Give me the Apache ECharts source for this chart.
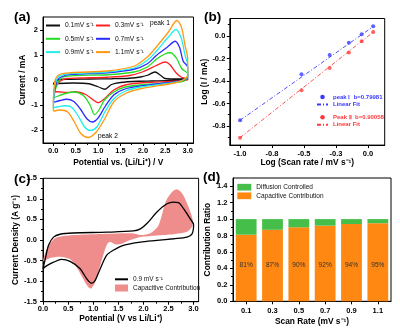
<!DOCTYPE html>
<html><head><meta charset="utf-8">
<script src="https://cdn.jsdelivr.net/npm/echarts@6/dist/echarts.min.js"></script>
<style>html,body{margin:0;padding:0;background:#fff}#c{width:400px;height:333px}</style>
</head><body><div id="c"></div>
<script>
// ================= DATA =================
// (a) CV loops [potential V, current mA]: anodic 0->3 V then cathodic 3->0 V
const cvNames = ['0.1mV s⁻¹','0.3mV s⁻¹','0.5mV s⁻¹','0.7mV s⁻¹','0.9mV s⁻¹','1.1mV s⁻¹'];
const cv01 = [[0,-0.18],[0.03,-0.08],[0.1,0.0],[0.3,0.03],[0.8,0.04],[1.3,0.05],[1.7,0.07],[1.95,0.12],[2.1,0.19],[2.27,0.32],[2.4,0.18],[2.5,0.06],[2.7,0.04],[3.0,0.05],
  [3.0,0.02],[2.7,-0.02],[2.2,-0.04],[1.9,-0.05],[1.5,-0.1],[1.3,-0.18],[1.15,-0.37],[1.0,-0.27],[0.8,-0.15],[0.45,-0.12],[0.1,-0.14],[0,-0.18]];
const cv03 = [[0,-0.48],[0.06,-0.25],[0.15,-0.05],[0.3,0.06],[0.6,0.08],[1.2,0.11],[1.7,0.18],[2.0,0.33],[2.3,0.58],[2.5,0.72],[2.6,0.62],[2.75,0.27],[2.87,0.1],[3.0,0.06],
  [3.0,0.0],[2.7,-0.05],[2.0,-0.11],[1.6,-0.2],[1.35,-0.4],[1.15,-0.74],[1.0,-0.91],[0.88,-0.78],[0.72,-0.58],[0.5,-0.47],[0.3,-0.5],[0.1,-0.47],[0,-0.48]];
const cv05 = [[0,-0.72],[0.06,-0.3],[0.12,-0.05],[0.22,0.12],[0.5,0.18],[1.2,0.21],[1.8,0.32],[2.1,0.52],[2.3,0.83],[2.5,1.05],[2.62,1.09],[2.75,0.87],[2.87,0.45],[3.0,0.25],
  [3.0,0.1],[2.9,-0.06],[2.7,-0.1],[2.0,-0.19],[1.6,-0.28],[1.35,-0.48],[1.15,-0.78],[1.02,-1.2],[0.92,-1.38],[0.82,-1.0],[0.67,-0.62],[0.45,-0.48],[0.25,-0.55],[0.05,-0.68],[0,-0.72]];
const cv07 = [[0,-0.9],[0.04,-0.35],[0.1,0.02],[0.28,0.19],[0.5,0.23],[1.2,0.29],[1.8,0.43],[2.1,0.65],[2.3,0.98],[2.55,1.32],[2.72,1.55],[2.82,1.3],[2.9,0.75],[3.0,0.52],
  [3.0,0.1],[2.9,0.0],[2.7,-0.08],[1.95,-0.24],[1.6,-0.36],[1.35,-0.6],[1.15,-1.08],[1.0,-1.52],[0.87,-1.68],[0.75,-1.55],[0.6,-1.15],[0.45,-0.85],[0.3,-0.77],[0.15,-0.82],[0,-0.9]];
const cv09 = [[0,-1.1],[0.04,-0.2],[0.12,0.14],[0.3,0.24],[0.6,0.27],[1.2,0.32],[1.8,0.48],[2.1,0.79],[2.3,1.15],[2.57,1.72],[2.74,2.02],[2.86,1.65],[2.94,1.0],[3.0,0.6],
  [3.0,0.15],[2.9,0.0],[2.7,-0.1],[1.95,-0.28],[1.6,-0.45],[1.35,-0.75],[1.15,-1.28],[0.97,-1.88],[0.83,-2.02],[0.7,-1.88],[0.55,-1.42],[0.4,-1.08],[0.25,-1.03],[0.1,-1.08],[0,-1.1]];
const cv11 = [[0,-1.22],[0.03,-0.1],[0.12,0.2],[0.4,0.29],[1.2,0.36],[1.8,0.55],[2.1,0.92],[2.3,1.32],[2.57,1.92],[2.76,2.38],[2.86,2.12],[2.94,1.39],[3.0,0.85],
  [3.0,0.2],[2.9,0.0],[2.7,-0.12],[1.95,-0.35],[1.6,-0.55],[1.35,-0.88],[1.15,-1.55],[0.96,-2.08],[0.78,-2.3],[0.62,-2.15],[0.47,-1.68],[0.32,-1.28],[0.15,-1.2],[0,-1.25]];
const cvColors = ['#111111','#ff2020','#22dd22','#2a2aff','#22eeee','#ff9a10'];
const aXTicks = [0,0.5,1,1.5,2,2.5,3];
const aXLabels = ['0.0','0.5','1.0','1.5','2.0','2.5','3.0'];
const aXMinor = [0.25,0.75,1.25,1.75,2.25,2.75];
const aYTicks = [-2,-1,0,1,2];
const aYLabels = ['-2','-1','0','1','2'];
const aYMinor = [-1.5,-0.5,0.5,1.5];

// (b) log-log peak current vs scan rate
const logRate = [-1.0,-0.52,-0.30,-0.15,-0.05,0.04];
const logPeak1 = [-0.75,-0.34,-0.17,-0.06,0.015,0.086];
const logPeak2 = [-0.904,-0.483,-0.284,-0.148,-0.047,0.036];
const fitX = [-1.0,0.04];
const fitPeak1 = [-0.75,0.083];
const fitPeak2 = [-0.904,0.034];
const bXTicks = [-1,-0.75,-0.5,-0.25,0];
const bXLabels = ['-1.0','-0.8','-0.5','-0.3','0.0'];
const bYTicks = [-0.8,-0.6,-0.4,-0.2,0];
const bYLabels = ['-0.8','-0.6','-0.4','-0.2','0.0'];
const bYMinor = [-0.9,-0.7,-0.5,-0.3,-0.1,0.1];

// (c) 0.9 mV/s CV and capacitive region
const cv09c = [[0,-0.7],[0.04,-0.49],[0.11,-0.13],[0.21,0.07],[0.34,0.14],[0.6,0.17],[1.27,0.19],[1.8,0.22],[1.94,0.27],[2.07,0.4],[2.27,0.68],[2.47,0.88],[2.6,0.92],[2.7,0.91],[2.8,0.76],[2.93,0.52],[3.0,0.37],
  [2.97,0.15],[2.87,0.07],[2.6,0.03],[2.27,-0.01],[1.94,-0.05],[1.6,-0.13],[1.4,-0.25],[1.27,-0.37],[1.14,-0.7],[1.04,-0.98],[0.97,-1.05],[0.87,-0.94],[0.74,-0.7],[0.54,-0.52],[0.37,-0.47],[0.21,-0.54],[0.07,-0.63],[0,-0.7]];
const capRegion = [[0,-0.5],[0.05,-0.3],[0.13,-0.1],[0.25,0.05],[0.5,0.11],[1.0,0.14],[1.5,0.16],[1.8,0.16],[1.95,0.12],[2.15,0.17],[2.3,0.35],[2.45,0.95],[2.58,1.18],[2.68,1.23],[2.78,1.12],[2.9,0.8],[2.98,0.5],
  [2.97,0.32],[2.87,0.2],[2.6,0.14],[2.27,0.11],[1.94,0.07],[1.7,-0.02],[1.55,-0.1],[1.45,-0.11],[1.33,-0.04],[1.27,-0.12],[1.2,-0.37],[1.1,-0.78],[1.04,-1.02],[0.96,-1.18],[0.9,-1.14],[0.8,-0.94],[0.67,-0.66],[0.54,-0.47],[0.34,-0.41],[0.14,-0.44],[0,-0.52]];
const cXTicks = [0,0.5,1,1.5,2,2.5,3];
const cXLabels = ['0.0','0.5','1.0','1.5','2.0','2.5','3.0'];
const cXMinor = [0.25,0.75,1.25,1.75,2.25,2.75];
const cYTicks = [-1.5,-1,-0.5,0,0.5,1,1.5];
const cYLabels = ['-1.5','-1.0','-0.5','0.0','0.5','1.0','1.5'];
const cYMinor = [-1.25,-0.75,-0.25,0.25,0.75,1.25];

// (d) contribution ratio
const scanRates = ['0.1','0.3','0.5','0.7','0.9','1.1'];
const capacitive = [0.81,0.87,0.90,0.92,0.94,0.95];
const diffusion = [0.19,0.13,0.10,0.08,0.06,0.05];
const capLabels = ['81%','87%','90%','92%','94%','95%'];
const dYTicks = [0,0.2,0.4,0.6,0.8,1.0,1.2,1.4];
const dYLabels = ['0.0','0.2','0.4','0.6','0.8','1.0','1.2','1.4'];
const dYMinor = [0.1,0.3,0.5,0.7,0.9,1.1,1.3];

// ================= CHART =================
const FONT = 'Liberation Sans, Arial, sans-serif';
const chart = echarts.init(document.getElementById('c'), null, {renderer: 'canvas'});

function lab(ticks, labels) {
  return v => { for (let i = 0; i < ticks.length; i++) if (Math.abs(ticks[i] - v) < 1e-6) return labels[i]; return ''; };
}
function mainAxis(g, pos, min, max, ticks, labels, name, nameGap, margin) {
  return {
    type: 'value', gridIndex: g, position: pos, min, max,
    name, nameLocation: 'middle', nameGap,
    nameTextStyle: {fontFamily: FONT, fontWeight: 'bold', fontSize: 8.4, color: '#000'},
    axisLine: {show: true, onZero: false, lineStyle: {color: '#000', width: 1}},
    axisTick: {show: true, inside: false, length: 3, customValues: ticks, lineStyle: {color: '#000', width: 1}},
    axisLabel: {customValues: ticks, formatter: lab(ticks, labels), fontFamily: FONT, fontWeight: 'bold', fontSize: 7.5, color: '#000', margin},
    splitLine: {show: false}
  };
}
function minorAxis(g, pos, min, max, minors) {
  return {
    type: 'value', gridIndex: g, position: pos, min, max,
    axisLine: {show: false, onZero: false},
    axisTick: {show: true, inside: false, length: 2, customValues: minors, lineStyle: {color: '#000', width: 1}},
    axisLabel: {show: false},
    splitLine: {show: false}
  };
}

const grids = [
  {left: 43, top: 17, width: 150.5, height: 126},
  {left: 229.8, top: 18.5, width: 154.9, height: 126.6},
  {left: 43, top: 178.3, width: 155.6, height: 123.4},
  {left: 233, top: 178, width: 158, height: 123.3}
].map(g => Object.assign(g, {show: true, borderColor: '#000', borderWidth: 1, backgroundColor: 'transparent', containLabel: false}));

const xAxes = [
  mainAxis(0, 'bottom', -0.23, 3.13, aXTicks, aXLabels, 'Potential vs. (Li/Li⁺) / V', 15.5, 4),   // 0
  minorAxis(0, 'bottom', -0.23, 3.13, aXMinor),                                                     // 1
  mainAxis(1, 'bottom', -1.08, 0.13, bXTicks, bXLabels, 'Log (Scan rate / mV s⁻¹)', 14, 5),          // 2
  mainAxis(2, 'bottom', 0, 3.1, cXTicks, cXLabels, 'Potential (V vs Li/Li⁺)', 12.5, 3.5),            // 3
  minorAxis(2, 'bottom', 0, 3.1, cXMinor),                                                          // 4
  { // 5
    type: 'category', gridIndex: 3, position: 'bottom', data: scanRates,
    name: 'Scan Rate (mV s⁻¹)', nameLocation: 'middle', nameGap: 16.5,
    nameTextStyle: {fontFamily: FONT, fontWeight: 'bold', fontSize: 8.4, color: '#000'},
    axisLine: {show: true, onZero: false, lineStyle: {color: '#000', width: 1}},
    axisTick: {show: true, alignWithLabel: true, length: 3, lineStyle: {color: '#000'}},
    axisLabel: {fontFamily: FONT, fontWeight: 'bold', fontSize: 7.5, color: '#000', margin: 6},
    splitLine: {show: false}
  }
];
const yAxes = [
  mainAxis(0, 'left', -2.52, 2.52, aYTicks, aYLabels, 'Current / mA', 16.5, 5),                  // 0
  minorAxis(0, 'left', -2.52, 2.52, aYMinor),                                                      // 1
  mainAxis(1, 'left', -0.97, 0.155, bYTicks, bYLabels, 'Log (I / mA)', 18.5, 4.5),                 // 2
  minorAxis(1, 'left', -0.97, 0.155, bYMinor),                                                     // 3
  mainAxis(2, 'left', -1.5, 1.5, cYTicks, cYLabels, 'Current Density (A g⁻¹)', 17.5, 6),          // 4
  minorAxis(2, 'left', -1.5, 1.5, cYMinor),                                                        // 5
  mainAxis(3, 'left', 0, 1.5, dYTicks, dYLabels, 'Contribution Ratio', 21, 5.5),                  // 6
  minorAxis(3, 'left', 0, 1.5, dYMinor)                                                            // 7
];

const cvData = [cv01, cv03, cv05, cv07, cv09, cv11];
const series = [];
cvData.forEach((d, i) => series.push({
  type: 'line', name: cvNames[i], xAxisIndex: 0, yAxisIndex: 0, data: d,
  symbol: 'none', smooth: 0.3, lineStyle: {color: cvColors[i], width: 1.3}, itemStyle: {color: cvColors[i]},
  z: 2 + i, animation: false
}));

const BLUE = '#3a3aff', RED = '#ff3a3a';
const P1 = 'peak Ⅰ  b=0.79981', P2 = 'Peak Ⅱ  b=0.90058';
series.push({type: 'line', name: 'Linear Fit', xAxisIndex: 2, yAxisIndex: 2, data: fitX.map((x, i) => [x, fitPeak1[i]]),
  symbol: 'none', lineStyle: {color: BLUE, width: 0.9, type: [4, 2, 1, 2]}, itemStyle: {color: BLUE}, animation: false});
series.push({type: 'line', name: 'Linear Fit ', xAxisIndex: 2, yAxisIndex: 2, data: fitX.map((x, i) => [x, fitPeak2[i]]),
  symbol: 'none', lineStyle: {color: RED, width: 0.9, type: [4, 2, 1, 2]}, itemStyle: {color: RED}, animation: false});
series.push({type: 'scatter', name: P1, xAxisIndex: 2, yAxisIndex: 2, data: logRate.map((x, i) => [x, logPeak1[i]]),
  symbol: 'circle', symbolSize: 4, itemStyle: {color: BLUE}, animation: false});
series.push({type: 'scatter', name: P2, xAxisIndex: 2, yAxisIndex: 2, data: logRate.map((x, i) => [x, logPeak2[i]]),
  symbol: 'circle', symbolSize: 4, itemStyle: {color: RED}, animation: false});

const PINK = '#ef8c8c';
series.push({
  type: 'custom', name: 'Capacitive Contribution ', xAxisIndex: 3, yAxisIndex: 4, data: [0], clip: true, z: 1,
  itemStyle: {color: PINK}, animation: false,
  renderItem: (params, api) => ({
    type: 'polygon',
    shape: {points: capRegion.map(p => api.coord(p)), smooth: 0.25},
    style: {fill: PINK, stroke: null}
  })
});
series.push({type: 'line', name: '0.9 mV s⁻¹', xAxisIndex: 3, yAxisIndex: 4, data: cv09c,
  symbol: 'none', smooth: 0.3, lineStyle: {color: '#000', width: 1.3}, itemStyle: {color: '#000'}, z: 3, animation: false});

const ORANGE = '#ff8812', GREEN = '#45bf4a';
series.push({type: 'bar', name: 'Capacitive Contribution', xAxisIndex: 5, yAxisIndex: 6, stack: 'r', data: capacitive,
  barWidth: '79%', itemStyle: {color: ORANGE}, animation: false,
  label: {show: true, position: 'insideBottom', distance: 33, formatter: p => capLabels[p.dataIndex],
    fontFamily: FONT, fontSize: 6.6, color: '#333'}});
series.push({type: 'bar', name: 'Diffusion Controlled', xAxisIndex: 5, yAxisIndex: 6, stack: 'r', data: diffusion,
  barWidth: '79%', itemStyle: {color: GREEN}, animation: false});

const legBase = {orient: 'vertical', padding: 0, selectedMode: false,
  textStyle: {fontFamily: FONT, fontSize: 6.7, color: '#111'}};
const hideSym = {opacity: 0};
const showSym = {opacity: 1};
const legends = [
  Object.assign({}, legBase, {data: [cvNames[0], cvNames[2], cvNames[4]], left: 45, top: 22, itemWidth: 14, itemHeight: 8, itemGap: 6.3, itemStyle: hideSym}),
  Object.assign({}, legBase, {data: [cvNames[1], cvNames[3], cvNames[5]], left: 95, top: 22, itemWidth: 14, itemHeight: 8, itemGap: 6.3, itemStyle: hideSym}),
  Object.assign({}, legBase, {data: [{name: P1, textStyle: {color: BLUE}, itemStyle: showSym}, {name: 'Linear Fit', textStyle: {color: BLUE}}],
    left: 316, top: 93.5, itemWidth: 11, itemHeight: 4.5, itemGap: 0.5, itemStyle: hideSym, textStyle: {fontFamily: FONT, fontSize: 6, fontWeight: 'bold', lineHeight: 7}}),
  Object.assign({}, legBase, {data: [{name: P2, textStyle: {color: RED}, itemStyle: showSym}, {name: 'Linear Fit ', textStyle: {color: RED}}],
    left: 316, top: 113.8, itemWidth: 11, itemHeight: 4.5, itemGap: 0.5, itemStyle: hideSym, textStyle: {fontFamily: FONT, fontSize: 6, fontWeight: 'bold', lineHeight: 7}}),
  Object.assign({}, legBase, {data: [{name: '0.9 mV s⁻¹', itemStyle: hideSym}, {name: 'Capacitive Contribution ', icon: 'rect'}],
    left: 114, top: 275.8, itemWidth: 13, itemHeight: 7, itemGap: 1.7, textStyle: {fontFamily: FONT, fontSize: 6.5, color: '#111', lineHeight: 7}}),
  Object.assign({}, legBase, {data: [{name: 'Diffusion Controlled', icon: 'rect'}, {name: 'Capacitive Contribution', icon: 'rect'}],
    left: 237.3, top: 183.7, itemWidth: 14, itemHeight: 6.7, itemGap: 1.6, textStyle: {fontFamily: FONT, fontSize: 6.5, color: '#111', lineHeight: 6.7}})
];

const txt = (t, x, y, size, weight) => ({type: 'text', left: x, top: y, silent: true,
  style: {text: t, fontFamily: FONT, fontSize: size, fontWeight: weight, fill: '#000'}});

chart.setOption({
  animation: false,
  backgroundColor: '#fff',
  grid: grids,
  xAxis: xAxes,
  yAxis: yAxes,
  legend: legends,
  series: series,
  graphic: [
    txt('(a)', 14, 10, 13.5, 'bold'),
    txt('(b)', 204, 10, 13.5, 'bold'),
    txt('(c)', 14, 172, 13.5, 'bold'),
    txt('(d)', 203, 170, 13.5, 'bold'),
    txt('peak 1', 150, 20, 6.6, 'normal'),
    txt('peak 2', 98, 132.5, 6.6, 'normal')
  ]
});
</script></body></html>
